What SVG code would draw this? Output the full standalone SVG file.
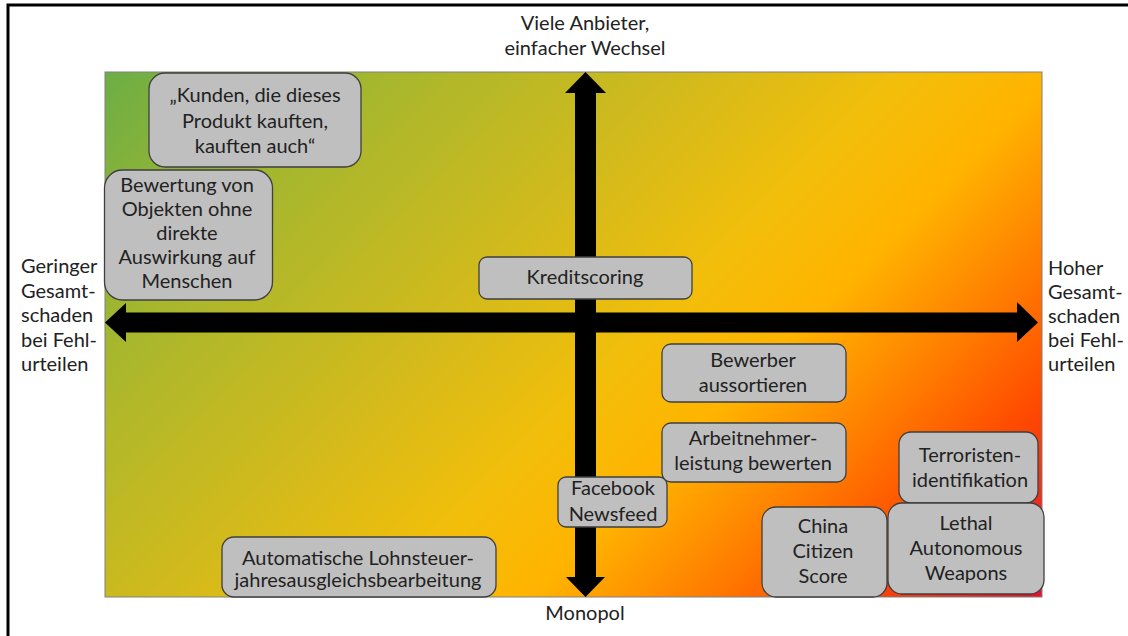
<svg xmlns="http://www.w3.org/2000/svg" width="1128" height="636" viewBox="0 0 1128 636">
<defs>
<linearGradient id="bg" gradientUnits="userSpaceOnUse" x1="105" y1="72" x2="836" y2="803">
<stop offset="0" stop-color="#6cae45"/>
<stop offset="0.2" stop-color="#a8b72d"/>
<stop offset="0.4" stop-color="#d2ba1c"/>
<stop offset="0.55" stop-color="#f2be0a"/>
<stop offset="0.65" stop-color="#ffb400"/>
<stop offset="0.76" stop-color="#ff8000"/>
<stop offset="0.86" stop-color="#ff4c00"/>
<stop offset="1" stop-color="#e2102e"/>
</linearGradient>
<style>
.box{fill:#bfbfbf;stroke:#3f3f3f;stroke-width:1.3}
.t{font-family:Lato,"Liberation Sans",sans-serif;font-size:20px;fill:#222;text-anchor:middle}
.a{font-family:Lato,"Liberation Sans",sans-serif;font-size:20px;fill:#222}
.arrow{fill:#000}
</style>
</defs>
<rect x="0" y="0" width="1128" height="636" fill="#fff"/>
<rect x="8" y="5" width="1130" height="640" fill="none" stroke="#000" stroke-width="3"/>
<rect id="field" x="105" y="72" width="937" height="525" fill="url(#bg)" stroke="#808080" stroke-width="1"/>

<g id="connectors">
<polygon class="arrow" points="575,597 575,93 565,93 585.5,72 606,93 596,93 596,577 605,577 585.5,597 566,577 575,577"/>
<polygon class="arrow" points="105,322.5 126,303 126,312.5 1017,312.5 1017,302 1038,322.5 1017,342 1017,332.5 126,332.5 126,342"/>
</g>

<g id="axis-top"><text class="t" x="585" y="30">Viele Anbieter,</text><text class="t" x="585" y="55">einfacher Wechsel</text></g>
<g id="axis-bottom"><text class="t" x="585" y="620">Monopol</text></g>
<g id="axis-left"><text class="a" x="21" y="273">Geringer</text><text class="a" x="21" y="297.5">Gesamt-</text><text class="a" x="21" y="322">schaden</text><text class="a" x="21" y="346.5">bei Fehl-</text><text class="a" x="21" y="371">urteilen</text></g>
<g id="axis-right"><text class="a" x="1048" y="275">Hoher</text><text class="a" x="1048" y="299">Gesamt-</text><text class="a" x="1048" y="323">schaden</text><text class="a" x="1048" y="347">bei Fehl-</text><text class="a" x="1048" y="371">urteilen</text></g>

<g id="kunden"><rect class="box" x="149" y="73" width="212" height="94" rx="16"/><text class="t" x="255" y="102">„Kunden, die dieses</text><text class="t" x="255" y="127.5">Produkt kauften,</text><text class="t" x="255" y="153">kauften auch“</text></g>
<g id="bewertung"><rect class="box" x="104.5" y="170" width="168" height="130" rx="18"/><text class="t" x="187" y="192">Bewertung von</text><text class="t" x="187" y="216">Objekten ohne</text><text class="t" x="187" y="240">direkte</text><text class="t" x="187" y="264">Auswirkung auf</text><text class="t" x="187" y="288">Menschen</text></g>
<g id="kredit"><rect class="box" x="479" y="257" width="213" height="42" rx="8"/><text class="t" x="585" y="284">Kreditscoring</text></g>
<g id="bewerber"><rect class="box" x="662" y="344" width="184" height="58" rx="9"/><text class="t" x="753" y="367">Bewerber</text><text class="t" x="753" y="392">aussortieren</text></g>
<g id="arbeitnehmer"><rect class="box" x="662" y="423" width="184" height="59" rx="9"/><text class="t" x="753" y="445">Arbeitnehmer-</text><text class="t" x="753" y="470">leistung bewerten</text></g>
<g id="facebook"><rect class="box" x="558" y="477" width="109" height="50" rx="8"/><text class="t" x="613" y="495">Facebook</text><text class="t" x="613" y="521">Newsfeed</text></g>
<g id="terror"><rect class="box" x="899" y="432" width="139" height="71" rx="12"/><text class="t" x="970" y="462">Terroristen-</text><text class="t" x="970" y="487">identifikation</text></g>
<g id="china"><rect class="box" x="762" y="507" width="125" height="90" rx="14"/><text class="t" x="823" y="533">China</text><text class="t" x="823" y="558">Citizen</text><text class="t" x="823" y="583">Score</text></g>
<g id="lethal"><rect class="box" x="888" y="503" width="156" height="91" rx="14"/><text class="t" x="966" y="530">Lethal</text><text class="t" x="966" y="555">Autonomous</text><text class="t" x="966" y="580">Weapons</text></g>
<g id="lohnsteuer"><rect class="box" x="222" y="537" width="274" height="60" rx="12"/><text class="t" x="358" y="565">Automatische Lohnsteuer-</text><text class="t" x="358" y="587">jahresausgleichsbearbeitung</text></g>
</svg>
